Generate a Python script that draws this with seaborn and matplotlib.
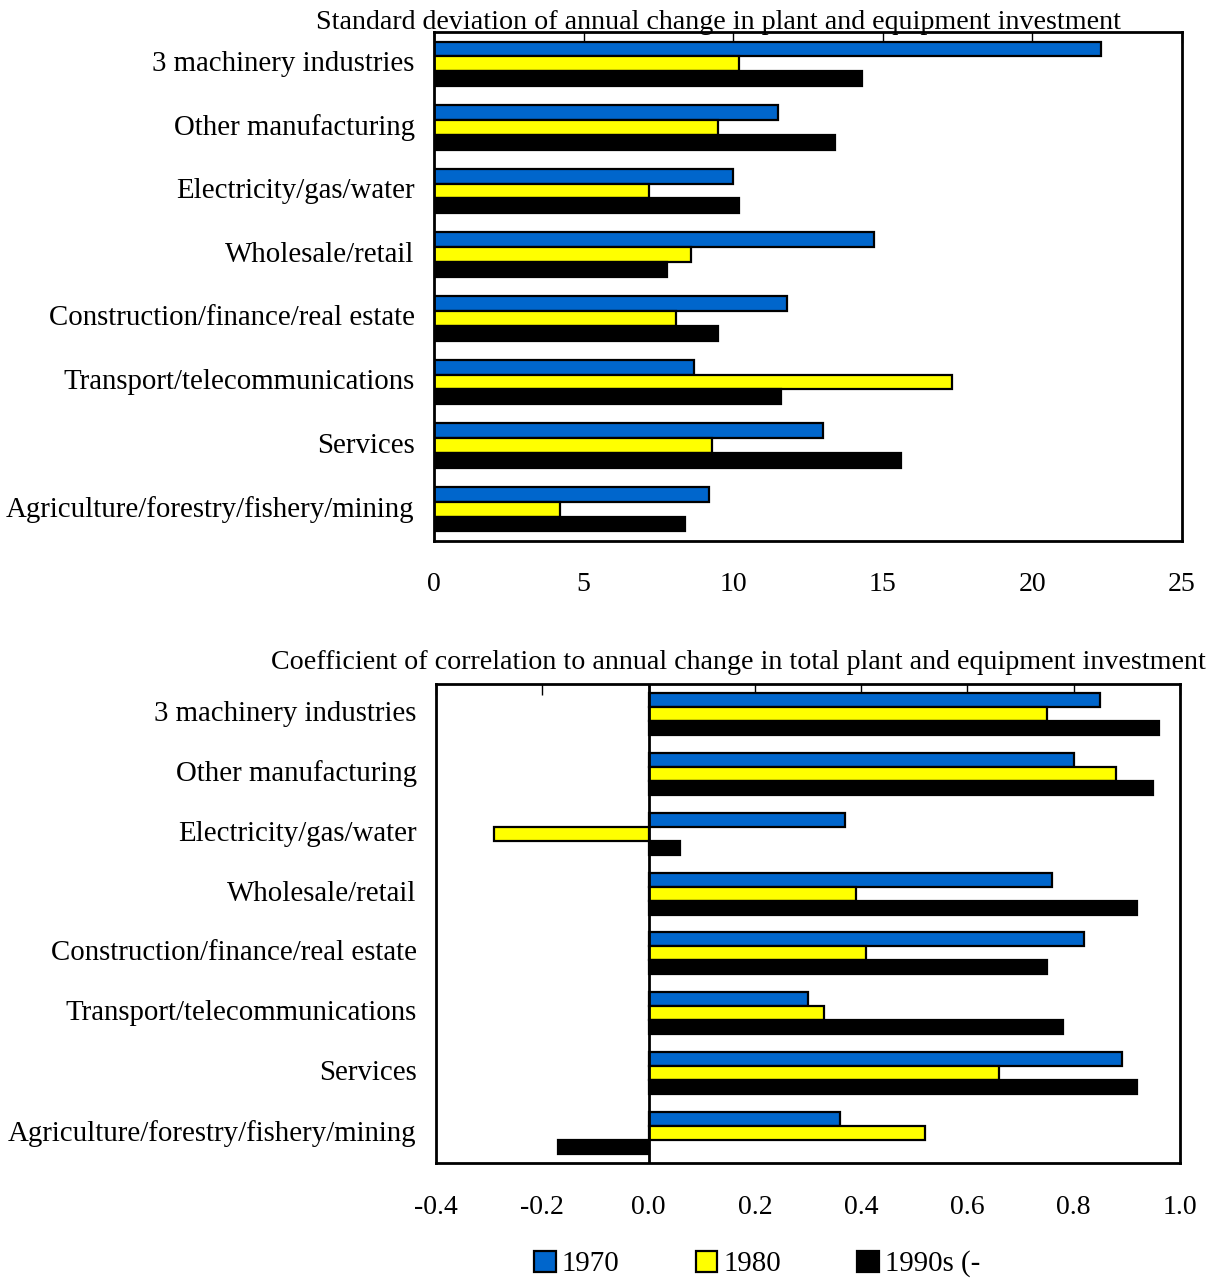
import matplotlib
matplotlib.use("Agg")
import matplotlib.pyplot as plt
import matplotlib.transforms as mtransforms
from matplotlib.patches import Patch
import numpy as np
import pandas as pd
import seaborn as sns

# Industry categories, top to bottom
categories = [
    "3 machinery industries",
    "Other manufacturing",
    "Electricity/gas/water",
    "Wholesale/retail",
    "Construction/finance/real estate",
    "Transport/telecommunications",
    "Services",
    "Agriculture/forestry/fishery/mining",
]
periods = ["1970", "1980", "1990s (-"]

# Standard deviation of annual change in plant and equipment investment
sd_1970 = [22.3, 11.5, 10.0, 14.7, 11.8, 8.7, 13.0, 9.2]
sd_1980 = [10.2, 9.5, 7.2, 8.6, 8.1, 17.3, 9.3, 4.2]
sd_1990 = [14.3, 13.4, 10.2, 7.8, 9.5, 11.6, 15.6, 8.4]

# Correlation with annual change in total plant and equipment investment
cc_1970 = [0.85, 0.80, 0.37, 0.76, 0.82, 0.30, 0.89, 0.36]
cc_1980 = [0.75, 0.88, -0.29, 0.39, 0.41, 0.33, 0.66, 0.52]
cc_1990 = [0.96, 0.95, 0.06, 0.92, 0.75, 0.78, 0.92, -0.17]

sd_ticks = [0, 5, 10, 15, 20, 25]
cc_ticks = [-0.4, -0.2, 0.0, 0.2, 0.4, 0.6, 0.8, 1.0]
cc_ticklabels = ["-0.4", "-0.2", "0.0", "0.2", "0.4", "0.6", "0.8", "1.0"]

colors = ["#0066CC", "#FFFF00", "#000000"]


def long_frame(a, b, c):
    rows = []
    for series, vals in zip(periods, (a, b, c)):
        for cat, v in zip(categories, vals):
            rows.append({"category": cat, "period": series, "value": v})
    return pd.DataFrame(rows)


sns.set_theme(style="white")
plt.rcParams["font.family"] = ["Liberation Serif", "DejaVu Serif"]
plt.rcParams["text.color"] = "black"
plt.rcParams["xtick.color"] = "black"
plt.rcParams["ytick.color"] = "black"
plt.rcParams["axes.labelcolor"] = "black"

LABEL_FS = 20.8
TITLE_FS = 20.2
TICK_FS = 20

W, H = 1208, 1282
fig = plt.figure(figsize=(W / 100, H / 100), dpi=100)

ax1 = fig.add_axes([434 / W, 1 - 541 / H, (1182 - 434) / W, (541 - 32) / H])
ax2 = fig.add_axes([436 / W, 1 - 1163 / H, (1180 - 436) / W, (1163 - 684) / H])

# nudge category labels up a little
label_shift = mtransforms.ScaledTranslation(0, 3 / 100, fig.dpi_scale_trans)


def draw(ax, df, xlim, ticks, ticklabels, pad):
    sns.barplot(
        data=df, y="category", x="value", hue="period", orient="h",
        hue_order=periods, palette=colors, saturation=1, edgecolor="black",
        linewidth=1.6, width=0.7, errorbar=None, legend=False, ax=ax,
    )
    ax.set_xlim(*xlim)
    ax.set_ylim(7.5, -0.5)
    ax.set_xlabel("")
    ax.set_ylabel("")
    ax.set_xticks(ticks)
    ax.set_xticklabels(ticklabels, fontsize=TICK_FS)
    ax.tick_params(axis="x", which="both", bottom=False, top=True,
                   labelbottom=True, labeltop=False, direction="in",
                   length=8, width=1, color="black", pad=pad)
    ax.tick_params(axis="y", left=False, labelsize=LABEL_FS, pad=8)
    for lab in ax.get_yticklabels():
        lab.set_transform(lab.get_transform() + label_shift)
    for s in ax.spines.values():
        s.set_visible(True)
        s.set_color("black")
        s.set_linewidth(2)


draw(ax1, long_frame(sd_1970, sd_1980, sd_1990), (0, 25), sd_ticks,
     [str(t) for t in sd_ticks], 22)
draw(ax2, long_frame(cc_1970, cc_1980, cc_1990), (-0.4, 1.0), cc_ticks,
     cc_ticklabels, 23)
ax2.axvline(0, color="black", linewidth=2, zorder=5)

fig.text(718 / W, 1 - 29 / H,
         "Standard deviation of annual change in plant and equipment investment",
         ha="center", va="baseline", fontsize=TITLE_FS)
fig.text(738 / W, 1 - 669 / H,
         "Coefficient of correlation to annual change in total plant and equipment investment",
         ha="center", va="baseline", fontsize=TITLE_FS)

handles = [Patch(facecolor=c, edgecolor="black", linewidth=1.6) for c in colors]
fig.legend(handles, periods, loc="center", bbox_to_anchor=(757 / W, 1 - 1264 / H),
           ncol=3, frameon=False, fontsize=LABEL_FS, handlelength=0.75,
           handleheight=0.75, handletextpad=0.2, columnspacing=2.65)

fig.savefig("out.png", dpi=100)
